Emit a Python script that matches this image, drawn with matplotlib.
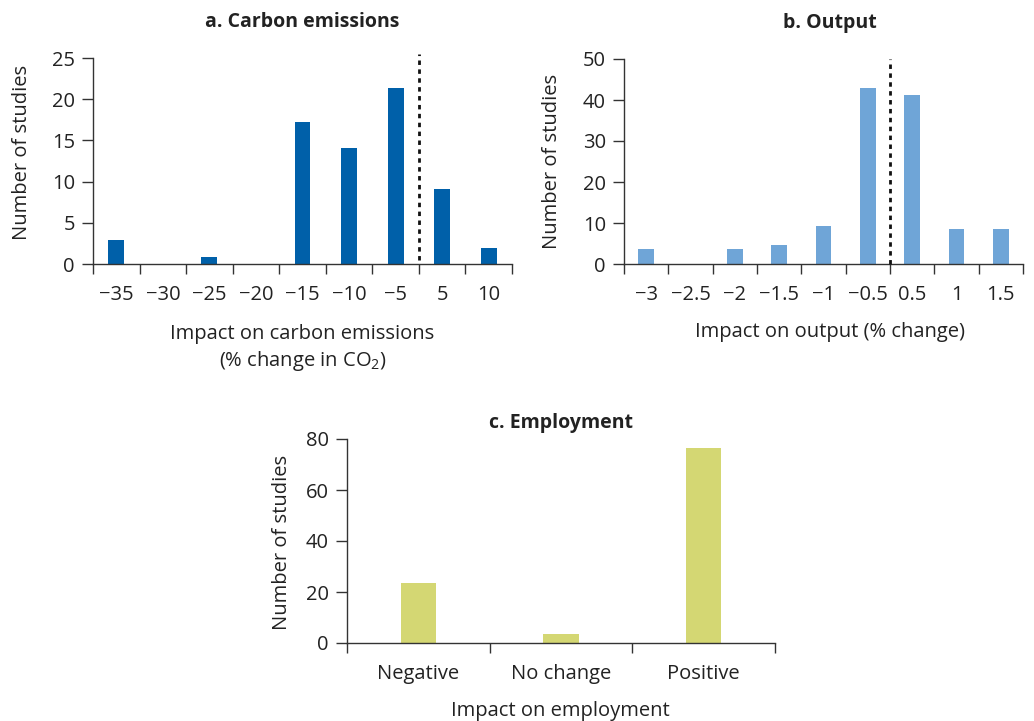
import matplotlib
matplotlib.use('Agg')
import matplotlib.pyplot as plt
import numpy as np

plt.rcParams['font.family'] = ['Open Sans', 'DejaVu Sans']
plt.rcParams['mathtext.fontset'] = 'custom'
plt.rcParams['mathtext.rm'] = 'Open Sans'
plt.rcParams['mathtext.it'] = 'Open Sans'

# data
carbon_cats = ['\u221235', '\u221230', '\u221225', '\u221220', '\u221215', '\u221210', '\u22125', '5', '10']
carbon_vals = [2.9, 0, 0.9, 0, 17.2, 14.1, 21.3, 9.1, 1.9]

output_cats = ['\u22123', '\u22122.5', '\u22122', '\u22121.5', '\u22121', '\u22120.5', '0.5', '1', '1.5']
output_vals = [3.7, 0, 3.7, 4.6, 9.3, 43, 41.3, 8.6, 8.6]

empl_cats = ['Negative', 'No change', 'Positive']
empl_vals = [23.7, 3.7, 76.6]

W, H = 1034, 721
FS = 14.5
TXT = '#222222'
fig = plt.figure(figsize=(W / 100, H / 100), dpi=100)


def px_axes(left, right, top, bottom):
    return fig.add_axes([left / W, 1 - bottom / H, (right - left) / W, (bottom - top) / H])


def style(ax, cats, ylim, yticks, xlim, bw, vals, color):
    x = np.arange(len(cats))
    ax.bar(x, vals, width=bw, color=color, zorder=2)
    ax.set_xlim(*xlim)
    ax.set_ylim(*ylim)
    ax.set_yticks(yticks)
    ax.set_xticks(np.arange(len(cats) + 1) - 0.5)
    ax.set_xticklabels([])
    ax.set_xticks(x, minor=True)
    ax.set_xticklabels(cats, minor=True)
    ax.tick_params(axis='x', which='major', length=7, width=1, color='#333333', direction='out')
    ax.tick_params(axis='x', which='minor', length=0, pad=15, labelsize=FS, labelcolor=TXT)
    ax.tick_params(axis='y', length=8, width=1, color='#333333', pad=5, labelsize=FS, labelcolor=TXT)
    for s in ['top', 'right']:
        ax.spines[s].set_visible(False)
    for s in ['left', 'bottom']:
        ax.spines[s].set_color('#333333')
        ax.spines[s].set_linewidth(1)


# a. Carbon emissions
ax1 = px_axes(93, 512, 58, 264)
style(ax1, carbon_cats, (0, 25), [0, 5, 10, 15, 20, 25], (-0.5, 8.5), 0.34, carbon_vals, '#0060A9')
ax1.plot([6.5, 6.5], [0.5, 25.5], color='#111111', lw=2.0, linestyle=(0, (1.6, 1.6)), clip_on=False, zorder=3)
ax1.set_title('a. Carbon emissions', fontsize=14, fontweight='bold', pad=22, color=TXT)
ax1.set_ylabel('Number of studies', fontsize=FS, color=TXT)
ax1.yaxis.set_label_coords(-0.146, 0.54)
ax1.set_xlabel('Impact on carbon emissions\n(% change in CO$_2$)', fontsize=FS, color=TXT, linespacing=1.3, va='top')
ax1.xaxis.set_label_coords(0.5, -0.29)

# b. Output
ax2 = px_axes(624, 1023, 59, 264)
style(ax2, output_cats, (0, 50), [0, 10, 20, 30, 40, 50], (-0.5, 8.24), 0.35, output_vals, '#6FA5D7')
ax2.plot([5.5, 5.5], [0, 50], color='#111111', lw=2.0, linestyle=(0, (1.6, 1.6)), clip_on=False, zorder=3)
ax2.set_title('b. Output', fontsize=14, fontweight='bold', pad=22, x=0.516, color=TXT)
ax2.set_ylabel('Number of studies', fontsize=FS, color=TXT)
ax2.yaxis.set_label_coords(-0.155, 0.50)
ax2.set_xlabel('Impact on output (% change)', fontsize=FS, color=TXT, va='top')
ax2.xaxis.set_label_coords(0.516, -0.285)

# c. Employment
ax3 = px_axes(347, 775, 439, 643)
style(ax3, empl_cats, (0, 80), [0, 20, 40, 60, 80], (-0.5, 2.5), 0.25, empl_vals, '#D4D773')
ax3.set_title('c. Employment', fontsize=14, fontweight='bold', pad=8, color=TXT)
ax3.set_ylabel('Number of studies', fontsize=FS, color=TXT)
ax3.yaxis.set_label_coords(-0.128, 0.495)
ax3.set_xlabel('Impact on employment', fontsize=FS, color=TXT, va='top')
ax3.xaxis.set_label_coords(0.498, -0.285)

fig.savefig('out.png', dpi=100)
